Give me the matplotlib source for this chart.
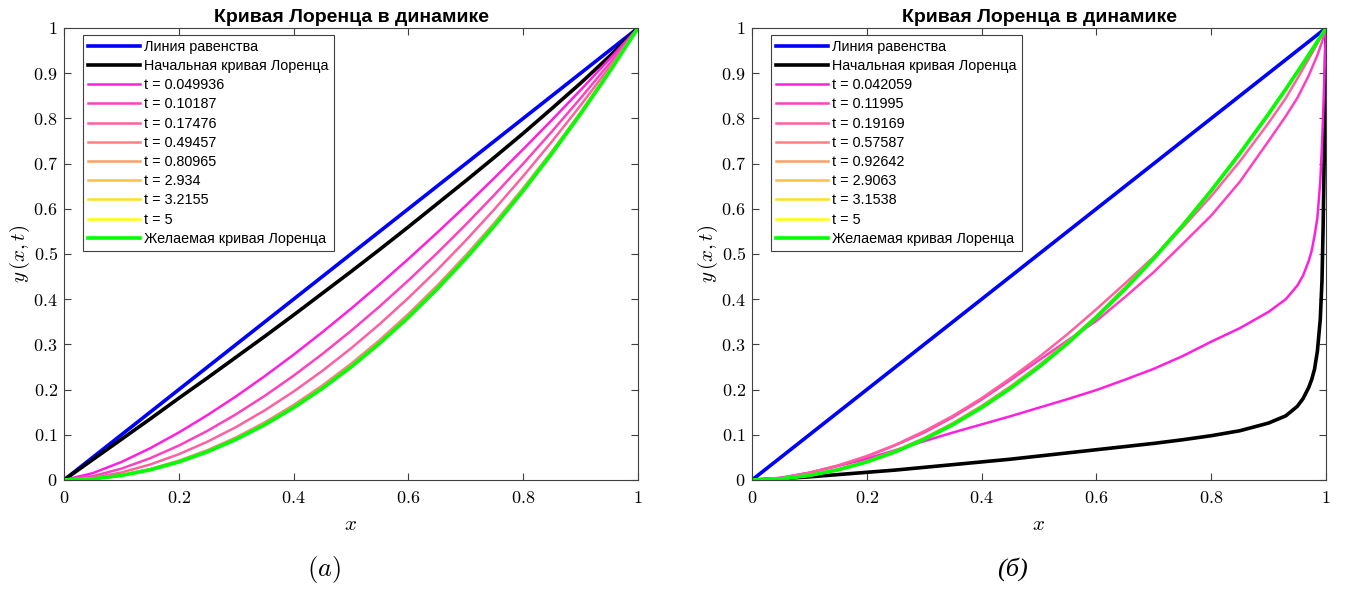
import numpy as np
import matplotlib
matplotlib.use('Agg')
import matplotlib.pyplot as plt

plt.rcParams['mathtext.fontset'] = 'cm'
plt.rcParams['font.family'] = ['Liberation Sans', 'DejaVu Sans']

# ---- data ----
# left panel (a): grid 0 .. 1 step 0.05
x_a = [0, .05, .1, .15, .2, .25, .3, .35, .4, .45, .5,
       .55, .6, .65, .7, .75, .8, .85, .9, .95, 1]
equal_a = x_a
start_a = [0, .045, .090, .135, .181, .226, .272, .318, .365, .413, .461,
           .510, .560, .611, .662, .714, .767, .822, .878, .937, 1]
t1_a = [0, .0151, .0398, .0702, .1051, .1436, .1853, .2300, .2772, .3270, .3789,
        .4331, .4891, .5471, .6069, .6685, .7318, .7965, .8628, .9307, 1]
t2_a = [0, .0083, .0251, .0481, .0761, .1088, .1457, .1864, .2308, .2787, .3299,
        .3842, .4416, .5019, .5651, .6311, .6998, .7711, .8448, .9212, 1]
t3_a = [0, .0048, .0166, .0342, .0570, .0848, .1173, .1543, .1957, .2414, .2912,
        .3450, .4028, .4645, .5300, .5992, .6723, .7488, .8289, .9127, 1]
t4_a = [0, .0028, .0110, .0243, .0427, .0661, .0944, .1278, .1660, .2091, .2571,
        .3098, .3674, .4298, .4970, .5690, .6458, .7273, .8134, .9044, 1]
t5_a = [0, .0026, .0104, .0231, .0408, .0634, .0910, .1237, .1613, .2040, .2517,
        .3044, .3621, .4248, .4925, .5652, .6429, .7256, .8133, .9060, 1]
late_a = [0, .0025, .0100, .0225, .0400, .0625, .0900, .1225, .1600, .2025, .2500,
          .3025, .3600, .4225, .4900, .5625, .6400, .7225, .8100, .9025, 1]
goal_a = late_a
times_a = ['0.049936', '0.10187', '0.17476', '0.49457', '0.80965', '2.934', '3.2155', '5']

# right panel (б): finer grid near x = 1
x_b = [0, .05, .1, .15, .2, .25, .3, .35, .4, .45, .5, .55, .6, .65, .7, .75, .8, .85, .9,
       .93, .95, .96, .97, .975, .98, .985, .99, .993, .995, .997, .998, 1]
equal_b = x_b
start_b = [0, .003, .007, .012, .017, .022, .028, .034, .040, .046, .053, .060, .067, .074, .081,
           .089, .098, .109, .126,
           .142, .163, .180, .205, .222, .245, .285, .355, .440, .560, .720, .800, 1]
t1_b = [0, .005, .016, .031, .047, .066, .086, .105, .123, .141, .160, .179, .199, .222, .246,
        .274, .306, .336, .372,
        .400, .430, .452, .485, .507, .540, .580, .660, .740, .810, .880, .930, 1]
t2_b = [0, .004, .016, .032, .052, .077, .105, .139, .178, .221, .265, .309, .352, .405, .460,
        .522, .585, .660, .750,
        .805, .845, .870, .895, .910, .925, .940, .958, .969, .977, .986, .990, 1]
t3_b = [0, .004, .016, .032, .053, .078, .108, .142, .181, .225, .272, .323, .378, .435, .494,
        .558, .628, .705, .790,
        .845, .888, .910, .932, .943, .954, .966, .977, .984, .989, .993, .995, 1]
t4_b = [0, .003, .011, .024, .042, .065, .093, .126, .164, .207, .254, .306, .363, .426, .493,
        .565, .642, .724, .811,
        .866, .903, .922, .941, .951, .960, .970, .980, .986, .990, .994, .996, 1]
late_b = [0, .0025, .0100, .0225, .0400, .0625, .0900, .1225, .1600, .2025, .2500, .3025, .3600,
          .4225, .4900, .5625, .6400, .7225, .8100,
          .8649, .9025, .9216, .9409, .9506, .9604, .9702, .9801, .9860, .9900, .9940, .9960, 1]
goal_b = late_b
times_b = ['0.042059', '0.11995', '0.19169', '0.57587', '0.92642', '2.9063', '3.1538', '5']

x_ticks = [0, 0.2, 0.4, 0.6, 0.8, 1]
x_tick_labels = ['0', '0.2', '0.4', '0.6', '0.8', '1']
y_ticks = [0, .1, .2, .3, .4, .5, .6, .7, .8, .9, 1]
y_tick_labels = ['0', '0.1', '0.2', '0.3', '0.4', '0.5', '0.6', '0.7', '0.8', '0.9', '1']

# spring colormap, 8 steps from pink to yellow
spring = [(1, k / 8, 1 - k / 8) for k in range(1, 9)]

fig = plt.figure(figsize=(13.46, 5.9), dpi=100)
ax_a = fig.add_axes([64 / 1346, 110 / 590, 574 / 1346, 452 / 590])
ax_b = fig.add_axes([752 / 1346, 110 / 590, 574 / 1346, 452 / 590])


def draw(ax, x, equal, start, curves, goal, times, caption, capfam, cap_x):
    ax.plot(x, equal, color=(0, 0, 1), lw=2.6, label='Линия равенства')
    ax.plot(x, start, color='black', lw=2.6, label='Начальная кривая Лоренца')
    for c, y, t in zip(spring, curves, times):
        ax.plot(x, y, color=c, lw=1.8, label='t = ' + t)
    ax.plot(x, goal, color=(0, 1, 0), lw=2.6, label='Желаемая кривая Лоренца')

    ax.set_xlim(0, 1)
    ax.set_ylim(0, 1)
    ax.set_xticks(x_ticks)
    ax.set_xticklabels(['$' + s + '$' for s in x_tick_labels], fontsize=13)
    ax.set_yticks(y_ticks)
    ax.set_yticklabels(['$' + s + '$' for s in y_tick_labels], fontsize=13)
    ax.tick_params(direction='in', top=True, right=True, length=5, width=0.8,
                   color='#404040', pad=7)
    ax.tick_params(axis='y', pad=4.5)
    for s in ax.spines.values():
        s.set_color('#404040')
        s.set_linewidth(0.8)
    ax.set_xlabel('$x$', fontsize=15, labelpad=6)
    ax.set_ylabel('$y\\,(x,t)$', fontsize=15, labelpad=1)
    ax.set_title('Кривая Лоренца в динамике', fontsize=14, fontweight='bold', pad=4)

    leg = ax.legend(loc='upper left', bbox_to_anchor=(0.033, 0.985), borderaxespad=0,
                    fontsize=10.4, handlelength=3.6, handletextpad=0.3, labelspacing=0.36,
                    frameon=True, fancybox=False, framealpha=1, borderpad=0.35)
    leg.get_frame().set_edgecolor('#404040')
    leg.get_frame().set_linewidth(0.8)

    fig.text(cap_x, 0.035, caption, ha='center', va='center',
             fontsize=19, family=capfam, style='italic')


draw(ax_a, x_a, equal_a, start_a, [t1_a, t2_a, t3_a, t4_a, t5_a, late_a, late_a, late_a],
     goal_a, times_a, '$(a)$', ['DejaVu Serif'], 324 / 1346)
draw(ax_b, x_b, equal_b, start_b, [t1_b, t2_b, t3_b, t4_b, late_b, late_b, late_b, late_b],
     goal_b, times_b, '(б)', ['Liberation Serif', 'DejaVu Serif'], 1012 / 1346)

fig.savefig('out.png', dpi=100)
